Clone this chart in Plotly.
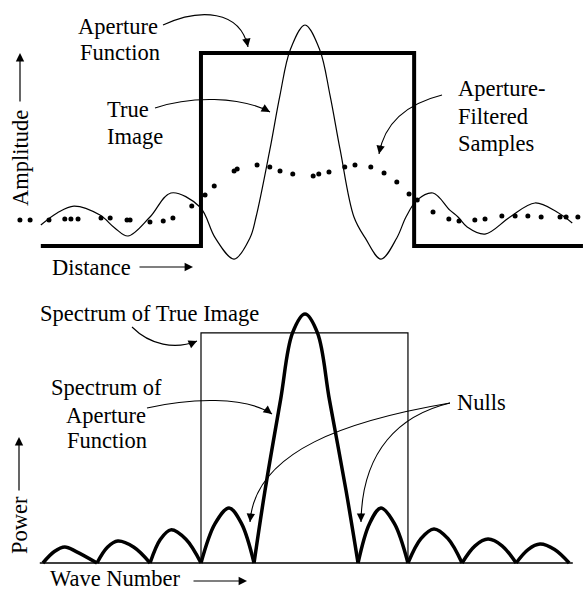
import plotly.graph_objects as go

# ---------------- data (top panel: amplitude vs distance) ----------------
true_x = [-5.18, -4.86, -4.53, -4.02, -3.73, -3.47, -3.04, -2.63, -2.06, -1.76, -1.39,
          -1.08, -0.96, -0.69, -0.49, -0.29, 0.0, 0.29, 0.49, 0.69, 0.96, 1.18, 1.49,
          1.80, 1.98, 2.20, 2.51, 2.84, 3.00, 3.18, 3.53, 4.02, 4.51, 4.94, 5.24]
true_y = [-0.042, 0.021, 0.057, 0.010, -0.057, -0.099, 0.0, 0.125, 0.052, -0.109, -0.219,
          -0.109, 0.0, 0.349, 0.635, 0.87, 1.0, 0.87, 0.635, 0.349, 0.0, -0.109, -0.219,
          -0.109, 0.0, 0.089, 0.125, 0.036, 0.0, -0.052, -0.089, 0.0, 0.073, 0.026, -0.031]

aperture_x = [-5.18, -2.04, -2.04, 2.14, 2.14, 5.45]
aperture_y = [-0.151, -0.151, 0.854, 0.854, -0.151, -0.151]

sample_x = [-5.59, -5.39, -5.02, -4.71, -4.59, -4.45, -4.00, -3.82, -3.49, -3.43, -3.04,
            -2.78, -2.59, -2.22, -1.96, -1.78, -1.39, -1.33, -0.94, -0.69, -0.49, -0.24,
            0.16, 0.27, 0.47, 0.78, 0.98, 1.29, 1.55, 1.80, 2.04, 2.20, 2.51, 2.82, 3.02,
            3.33, 3.53, 3.86, 4.12, 4.37, 4.63, 5.00, 5.12, 5.35]
sample_y = [-0.016, -0.016, -0.016, -0.010, -0.010, -0.010, -0.005, -0.005, -0.016, -0.016,
            -0.026, -0.021, -0.005, 0.057, 0.115, 0.161, 0.240, 0.250, 0.271, 0.260, 0.240,
            0.224, 0.214, 0.224, 0.234, 0.260, 0.271, 0.260, 0.229, 0.182, 0.120, 0.089,
            0.026, -0.010, -0.021, -0.016, -0.010, 0.005, 0.005, 0.005, 0.000, 0.000,
            0.000, 0.000]

# ---------------- data (bottom panel: power vs wave number) ----------------
rect_x = [-2.0, -2.0, 1.98, 1.98]
rect_y = [0.0, 0.924, 0.924, 0.0]

base_x = [-5.1, 5.15]
base_y = [0.0, 0.0]

spec_x = [-5.04, -4.82, -4.62, -4.40, -4.0, None,
          -4.0, -3.80, -3.60, -3.29, -2.98, None,
          -2.98, -2.78, -2.58, -2.29, -2.0, None,
          -2.0, -1.73, -1.46, -1.22, -0.98, None,
          -0.98, -0.77, -0.47, -0.24, 0.0, 0.24, 0.47, 0.79, 1.02, None,
          1.02, 1.24, 1.46, 1.72, 1.98, None,
          1.98, 2.23, 2.48, 2.75, 3.02, None,
          3.02, 3.27, 3.52, 3.79, 4.06, None,
          4.06, 4.29, 4.52, 4.80, 5.08]
spec_y = [0.0, 0.046, 0.064, 0.046, 0.0, None,
          0.0, 0.063, 0.088, 0.063, 0.0, None,
          0.0, 0.095, 0.133, 0.095, 0.0, None,
          0.0, 0.158, 0.221, 0.158, 0.0, None,
          0.0, 0.29, 0.655, 0.924, 1.0, 0.924, 0.655, 0.29, 0.0, None,
          0.0, 0.158, 0.221, 0.158, 0.0, None,
          0.0, 0.098, 0.137, 0.098, 0.0, None,
          0.0, 0.069, 0.096, 0.069, 0.0, None,
          0.0, 0.054, 0.076, 0.054, 0.0]

W, H = 583, 593
FONT = "Liberation Serif, 'Times New Roman', Times, serif"
FS = 22.5


def P(px, py):
    return px / W, 1 - py / H


fig = go.Figure()

fig.add_trace(go.Scatter(x=aperture_x, y=aperture_y, mode="lines",
                         line=dict(color="black", width=4), xaxis="x", yaxis="y"))
fig.add_trace(go.Scatter(x=true_x, y=true_y, mode="lines",
                         line=dict(color="black", width=1.2, shape="spline", smoothing=1.0),
                         xaxis="x", yaxis="y"))
fig.add_trace(go.Scatter(x=sample_x, y=sample_y, mode="markers",
                         marker=dict(color="black", size=5), xaxis="x", yaxis="y"))

fig.add_trace(go.Scatter(x=base_x, y=base_y, mode="lines",
                         line=dict(color="black", width=1.5), xaxis="x2", yaxis="y2"))
fig.add_trace(go.Scatter(x=rect_x, y=rect_y, mode="lines",
                         line=dict(color="black", width=1.2), xaxis="x2", yaxis="y2"))
fig.add_trace(go.Scatter(x=spec_x, y=spec_y, mode="lines", connectgaps=False,
                         line=dict(color="black", width=3.5, shape="spline", smoothing=1.0),
                         xaxis="x2", yaxis="y2"))

annotations = []


def text(px, py, s, xanchor="left", angle=0):
    x, y = P(px, py)
    annotations.append(dict(x=x, y=y, xref="paper", yref="paper", text=s, showarrow=False,
                            xanchor=xanchor, yanchor="middle", textangle=angle,
                            font=dict(family=FONT, size=FS, color="black")))


def head(px, py, ax, ay):
    x, y = P(px, py)
    annotations.append(dict(x=x, y=y, xref="paper", yref="paper", text="", showarrow=True,
                            ax=ax, ay=ay, arrowhead=2, arrowsize=1.4, arrowwidth=1.2,
                            arrowcolor="black", standoff=0, startstandoff=0))


# top panel labels
text(118, 26, "Aperture", "center")
text(120, 52, "Function", "center")
text(105, 110, "True")
text(105, 137, "Image")
text(456, 88, "Aperture-")
text(456, 117, "Filtered")
text(456, 143, "Samples")
text(50, 267, "Distance")
text(20, 158, "Amplitude", "center", -90)

# bottom panel labels
text(38, 313, "Spectrum of True Image")
text(106, 387, "Spectrum of", "center")
text(106, 415, "Aperture", "center")
text(107, 440, "Function", "center")
text(455, 402, "Nulls")
text(19, 525, "Power", "center", -90)
text(48, 578, "Wave Number")

# straight arrows
head(20, 53, 0, 50)
head(193, 267, -55, 0)
head(19, 437, 0, 55)
head(247, 581, -55, 0)

# curved arrows (cubic paths) + heads
curves = [
    ((163, 25), (200, 8), (240, 10), (248, 47), (-2, -10)),
    ((155, 108), (190, 96), (240, 96), (270, 112), (-9, -5)),
    ((442, 95), (410, 103), (385, 120), (379, 154), (2, -10)),
    ((132, 327), (150, 345), (175, 350), (197, 341), (-9, 4)),
    ((147, 408), (190, 398), (245, 396), (272, 414), (-8, -6)),
    ((450, 403), (350, 420), (255, 450), (250, 522), (1, -10)),
    ((450, 403), (400, 415), (362, 450), (361, 522), (0, -10)),
]
shapes = []
for p0, p1, p2, p3, (ax, ay) in curves:
    pts = [P(*p) for p in (p0, p1, p2, p3)]
    path = "M{:.5f},{:.5f} C{:.5f},{:.5f} {:.5f},{:.5f} {:.5f},{:.5f}".format(
        *pts[0], *pts[1], *pts[2], *pts[3])
    shapes.append(dict(type="path", path=path, xref="paper", yref="paper",
                       line=dict(color="black", width=1.1)))
    head(p3[0], p3[1], ax, ay)

top_dom = [1 - 290 / H, 1]
bot_dom = [0, 1 - 290 / H]

fig.update_layout(
    width=W, height=H,
    margin=dict(l=0, r=0, t=0, b=0),
    paper_bgcolor="white", plot_bgcolor="white",
    showlegend=False,
    xaxis=dict(domain=[0, 1], range=[-305 / 51, 278 / 51], visible=False, anchor="y"),
    yaxis=dict(domain=top_dom, range=[-73 / 192, 217 / 192], visible=False, anchor="x"),
    xaxis2=dict(domain=[0, 1], range=[-305 / 52, 278 / 52], visible=False, anchor="y2"),
    yaxis2=dict(domain=bot_dom, range=[-30 / 249, 273 / 249], visible=False, anchor="x2"),
    annotations=annotations,
    shapes=shapes,
)

fig.write_html("out.html", config={"staticPlot": True},
               post_script="document.body.style.margin='0px';document.body.style.overflow='hidden';")
